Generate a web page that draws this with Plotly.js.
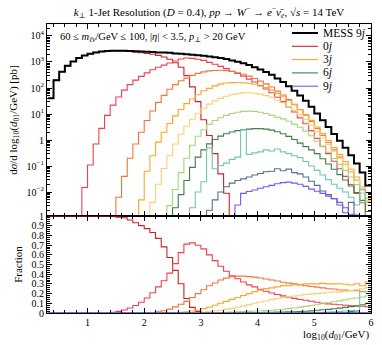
<!DOCTYPE html>
<html><head><meta charset="utf-8">
<script src="https://cdn.plot.ly/plotly-3.0.1.min.js"></script>
<style>html,body{margin:0;padding:0;background:#fff}#chart{width:382px;height:345px}</style>
</head><body><div id="chart"></div>
<script>
// bin edges in log10(d01/GeV)
const binEdges = [0.3,0.4,0.5,0.6,0.7,0.8,0.9,1.0,1.1,1.2,1.3,1.4,1.5,1.6,1.7,1.8,1.9,2.0,2.1,2.2,2.3,2.4,2.5,2.6,2.7,2.8,2.9,3.0,3.1,3.2,3.3,3.4,3.5,3.6,3.7,3.8,3.9,4.0,4.1,4.2,4.3,4.4,4.5,4.6,4.7,4.8,4.9,5.0,5.1,5.2,5.3,5.4,5.5,5.6,5.7,5.8,5.9,6.0];

// dsigma/dlog10(d01) [pb] per bin
const mess9j = [40,200,420,710,1050,1410,1780,2090,2340,2510,2630,2690,2690,2690,2630,2570,2510,2450,2400,2340,2290,2240,2140,2090,2000,1910,1820,1740,1620,1510,1410,1290,1150,1020,890,760,630,510,410,320,230,170,117,79,51,32,19,10.5,5.8,3.2,1.7,0.93,0.50,0.26,0.126,0.056,0.018];
const jet0 = [40,200,420,710,1050,1410,1780,2090,2340,2510,2630,2690,2660,2640,2520,2390,2260,2130,1990,1800,1560,1280,940,630,300,110,30,6,1.5,0.3,0.05,0.009,0,0,0,0,0,0,0,0,0,0,0,0,0,0,0,0,0,0,0,0,0,0,0,0,0];
const jet1 = [0,0,0,0,0,0,0.015,0.11,0.7,2.8,8.9,22,45,83,135,200,280,380,500,630,760,920,1090,1300,1420,1380,1270,1150,970,815,680,555,440,360,285,220,170,125,92,66,44,30,18.7,11.9,7.1,4.2,2.3,1.16,0.58,0.30,0.153,0.079,0.04,0.0195,0.0088,0.0039,0.00117];
const jet2 = [0,0,0,0,0,0,0,0,0,0,0,0,0.0063,0.04,0.2,0.7,2.0,5.6,13,28,52,89,135,190,240,305,364,418,454,468,479,464,431,388,338,285,233,184,144,109,76,54,36,23.7,14.8,9.0,5.2,2.8,1.5,0.8,0.42,0.22,0.118,0.06,0.029,0.0123,0.004];
const jet3 = [0,0,0,0,0,0,0,0,0,0,0,0,0,0,0,0,0.005,0.063,0.25,0.83,2.0,4.3,8.5,15,25,38,55,78,97,121,141,155,161,163,160,152,139,120,103,83,62,48,33,23,15,9.6,5.7,3.15,1.77,0.96,0.51,0.28,0.148,0.075,0.038,0.0157,0.0058];
const jet4 = [0,0,0,0,0,0,0,0,0,0,0,0,0,0,0,0,0,0,0.004,0.02,0.08,0.25,0.7,1.66,3.4,6.3,10.7,16.6,24,32,40,48,55,61,65,66,63,58,51,44,34,27,19.5,13.8,9.3,6.1,3.7,2.1,1.19,0.67,0.37,0.20,0.113,0.06,0.030,0.014,0.0047];
const jet5 = [0,0,0,0,0,0,0,0,0,0,0,0,0,0,0,0,0,0,0,0,0,0.003,0.0126,0.056,0.2,0.63,1.4,2.5,4.0,5.6,7.2,8.9,10.5,11.7,12.6,12.9,12.6,11.7,10.5,8.9,7.6,6.5,5.3,4.1,3.1,2.2,1.46,0.90,0.55,0.34,0.196,0.116,0.068,0.038,0.0195,0.0092,0.0032];
const jet6 = [0,0,0,0,0,0,0,0,0,0,0,0,0,0,0,0,0,0,0,0,0,0,0.0025,0.008,0.028,0.089,0.22,0.42,0.71,1.05,1.41,1.74,2.04,2.29,2.51,2.63,2.75,2.75,2.63,2.40,2.09,1.74,1.38,1.05,0.76,0.56,0.42,0.30,0.19,0.12,0.075,0.047,0.029,0.017,0.0095,0.0048,0.0018];
const jet7 = [0,0,0,0,0,0,0,0,0,0,0,0,0,0,0,0,0,0,0,0,0,0,0,0,0,0.0025,0.01,0.025,0.5,0.079,0.105,0.13,0.18,0.22,2.5,0.28,0.32,0.35,0.42,0.38,0.45,0.35,0.30,0.25,0.21,0.15,0.1,0.068,0.045,0.03,0.02,0.014,0.01,0.0063,0.0032,0.0126,0.004];
const jet8 = [0,0,0,0,0,0,0,0,0,0,0,0,0,0,0,0,0,0,0,0,0,0,0,0,0,0,0,0,0.002,0.005,0.01,0.016,0.022,0.028,0.032,0.038,0.045,0.052,0.06,0.063,0.079,0.066,0.076,0.056,0.05,0.038,0.026,0.018,0.011,0.008,0.0056,0.0032,0.0016,0.004,0.0013,0,0];
const jet9 = [0,0,0,0,0,0,0,0,0,0,0,0,0,0,0,0,0,0,0,0,0,0,0,0,0,0,0,0,0,0,0,0,0,0.0032,0.0089,0.0105,0.012,0.014,0.016,0.018,0.021,0.023,0.024,0.022,0.02,0.0166,0.013,0.0107,0.0089,0.007,0.0056,0.004,0.0025,0.0014,0,0,0];

const jetSeries = [jet0,jet1,jet2,jet3,jet4,jet5,jet6,jet7,jet8,jet9];
const jetNames = ['0j','1j','2j','3j','4j','5j','6j','7j','8j','9j'];
const jetColors = ['#c8232f','#f0404f','#f4743a','#ffa52a','#ffcd73','#a9d47c','#3e7f4c','#72c8a6','#55708f','#7457ff'];
const legendJets = [0,3,6,9];

const xTickVals = [1,2,3,4,5,6];
const yTickVals = [0.01,0.1,1,10,100,1000,10000];
const yTickText = ['10<sup>−2</sup>','10<sup>−1</sup>','1','10<sup>1</sup>','10<sup>2</sup>','10<sup>3</sup>','10<sup>4</sup>'];
const fracTickVals = [0,0.1,0.2,0.3,0.4,0.5,0.6,0.7,0.8,0.9,1];
const fracTickText = ['0','0.1','0.2','0.3','0.4','0.5','0.6','0.7','0.8','0.9','1'];

const FONT = 'Liberation Serif, DejaVu Serif, serif';

// drawing helpers
function stepLog(v){ const o = v.map(a => a > 0 ? a : 1e-9); o.push(o[o.length-1]); return o; }
function stepLin(v){ const o = v.slice(); o.push(o[o.length-1]); return o; }

const traces = [];
jetSeries.forEach((s,k) => {
  traces.push({x: binEdges, y: stepLog(s), type:'scatter', mode:'lines', line:{shape:'hv', color: jetColors[k], width:1.1},
    name: jetNames[k], xaxis:'x', yaxis:'y', hoverinfo:'skip'});
});
traces.push({x: binEdges, y: stepLog(mess9j), type:'scatter', mode:'lines', line:{shape:'hv', color:'#000', width:2},
  name:'MESS 9j', xaxis:'x', yaxis:'y', hoverinfo:'skip'});
jetSeries.forEach((s,k) => {
  const frac = s.map((v,i) => v / mess9j[i]);
  traces.push({x: binEdges, y: stepLin(frac), type:'scatter', mode:'lines', line:{shape:'hv', color: jetColors[k], width:1.1},
    name: jetNames[k]+' fraction', xaxis:'x2', yaxis:'y2', hoverinfo:'skip'});
});

// geometry (pixels)
const W=382, H=345, ML=47, MR=11, MT=24, MB=32;
const PW = W-ML-MR, PH = H-MT-MB;
const splitPx = 216;
const split = (H-MB-splitPx)/PH;
const px2x = p => (p-ML)/PW;
const py2y = p => (H-MB-p)/PH;

const logMinor = [];
for (let d=-3; d<=4; d++) for (let k=2; k<=9; k++) logMinor.push(k*Math.pow(10,d));

const axBase = {ticks:'inside', ticklen:5, tickwidth:1, tickcolor:'#000', showline:true, linecolor:'#000', linewidth:1,
  mirror:'allticks', showgrid:false, zeroline:false, tickfont:{family:FONT, size:10, color:'#000'}};

// manual legend
const shapes = [], annotations = [];
const legRows = [33, 46.3, 59.6, 72.9, 86.2];
const legItems = [{t:'MESS 9<i>j</i>', c:'#000', w:2}].concat(legendJets.map(k => ({t: k+'<i>j</i>', c: jetColors[k], w:1.1})));
legItems.forEach((it,r) => {
  shapes.push({type:'line', xref:'paper', yref:'paper', x0:px2x(292), x1:px2x(318), y0:py2y(legRows[r]), y1:py2y(legRows[r]),
    line:{color:it.c, width:it.w}});
  annotations.push({xref:'paper', yref:'paper', x:px2x(321), y:py2y(legRows[r]), xanchor:'left', yanchor:'middle',
    text: it.t, showarrow:false, font:{family:FONT, size:11.5, color:'#000'}});
});
annotations.push({xref:'paper', yref:'paper', x:px2x(58), y:py2y(37), xanchor:'left', yanchor:'middle', showarrow:false,
  text:'60 ≤ <i>m</i><sub><i>ℓν</i></sub>/GeV ≤ 100, |<i>η</i>| &lt; 3.5, <i>p</i><sub>⊥</sub> &gt; 20 GeV',
  font:{family:FONT, size:10.5, color:'#000'}});
annotations.push({xref:'paper', yref:'paper', x:1, y:py2y(335), xanchor:'right', yanchor:'middle', showarrow:false,
  text:'log<sub>10</sub>(<i>d</i><sub>01</sub>/GeV)', font:{family:FONT, size:11, color:'#000'}});

const layout = {
  width:W, height:H, margin:{l:ML, r:MR, t:MT, b:MB, pad:0},
  paper_bgcolor:'#fff', plot_bgcolor:'#fff', showlegend:false,
  font:{family:FONT, size:10, color:'#000'},
  title:{text:'<i>k</i><sub>⊥</sub> 1-Jet Resolution (<i>D</i> = 0.4), <i>pp</i> → <i>W</i><sup>−</sup> → <i>e</i><sup>−</sup><i>ν̄</i><sub><i>e</i></sub>, √<i>s</i> = 14 TeV',
    font:{family:FONT, size:11, color:'#000'}, xref:'paper', x:0.5, xanchor:'center', yref:'container', y:1-12/H, yanchor:'middle'},
  xaxis: Object.assign({}, axBase, {domain:[0,1], anchor:'y', range:[0.285,6], tickmode:'array', tickvals:xTickVals,
    showticklabels:false, minor:{ticks:'inside', ticklen:3, tickcolor:'#000', dtick:0.2, tick0:0, showgrid:false}}),
  xaxis2: Object.assign({}, axBase, {domain:[0,1], anchor:'y2', matches:'x', range:[0.285,6], tickmode:'array', tickvals:xTickVals,
    ticktext: xTickVals.map(String), showticklabels:true, minor:{ticks:'inside', ticklen:3, tickcolor:'#000', dtick:0.2, tick0:0, showgrid:false}}),
  yaxis: Object.assign({}, axBase, {domain:[split,1], anchor:'x', type:'log', range:[-2.92,4.46], tickmode:'array',
    tickvals:yTickVals, ticktext:yTickText,
    minor:{ticks:'inside', ticklen:3, tickcolor:'#000', tickmode:'array', tickvals:logMinor, showgrid:false},
    title:{text:'d<i>σ</i>/d log<sub>10</sub>(<i>d</i><sub>01</sub>/GeV) [pb]', font:{family:FONT, size:11, color:'#000'}, standoff:6}}),
  yaxis2: Object.assign({}, axBase, {domain:[0,split], anchor:'x2', range:[0,1], tickmode:'array', tickvals:fracTickVals, ticktext:fracTickText,
    minor:{ticks:'inside', ticklen:3, tickcolor:'#000', dtick:0.02, tick0:0, showgrid:false},
    title:{text:'Fraction', font:{family:FONT, size:11, color:'#000'}, standoff:6}}),
  shapes: shapes, annotations: annotations
};

Plotly.newPlot('chart', traces, layout, {staticPlot:true, displayModeBar:false});
</script>
</body></html>
